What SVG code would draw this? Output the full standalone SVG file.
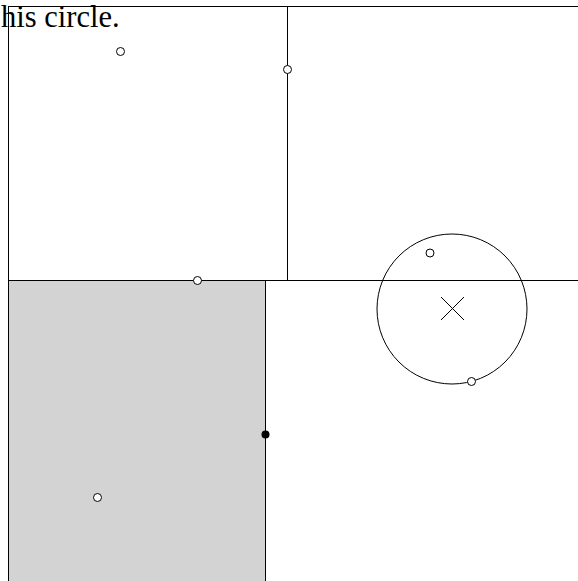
<svg xmlns="http://www.w3.org/2000/svg" width="578" height="581" viewBox="0 0 578 581">
<style>
.ln{stroke:#000;stroke-width:1;fill:none}
.pt{fill:#fff;stroke:#000;stroke-width:1}
.lbl{font-family:"Liberation Serif","Times New Roman",serif;font-size:30.5px;fill:#000}
</style>
<rect width="578" height="581" fill="#fff"/>
<g id="shaded"><rect x="8.5" y="281" width="257.5" height="300" fill="#d3d3d3"/></g>
<g id="connectors">
<line class="ln" x1="8.5" y1="6.5" x2="578" y2="6.5"/>
<line class="ln" x1="8.5" y1="6" x2="8.5" y2="581"/>
<line class="ln" x1="8.5" y1="280.5" x2="578" y2="280.5"/>
<line class="ln" x1="287.5" y1="6" x2="287.5" y2="281"/>
<line class="ln" x1="265.5" y1="281" x2="265.5" y2="581"/>
</g>
<g id="circle"><circle class="ln" cx="452" cy="309" r="75" stroke="#333"/>
<line class="ln" x1="441" y1="297" x2="464" y2="320" stroke="#444"/>
<line class="ln" x1="464" y1="297" x2="441" y2="320" stroke="#444"/></g>
<g id="points">
<circle class="pt" cx="120.5" cy="51.5" r="4"/>
<circle class="pt" cx="287.5" cy="69.5" r="4"/>
<circle class="pt" cx="197.5" cy="280.5" r="4"/>
<circle class="pt" cx="430" cy="253" r="4"/>
<circle class="pt" cx="471.5" cy="381.5" r="4"/>
<circle cx="265.5" cy="434.5" r="4" fill="#000"/>
<circle class="pt" cx="97.5" cy="497.5" r="4"/>
</g>
<g id="label"><text class="lbl" x="1" y="27">his circle.</text></g>
</svg>
